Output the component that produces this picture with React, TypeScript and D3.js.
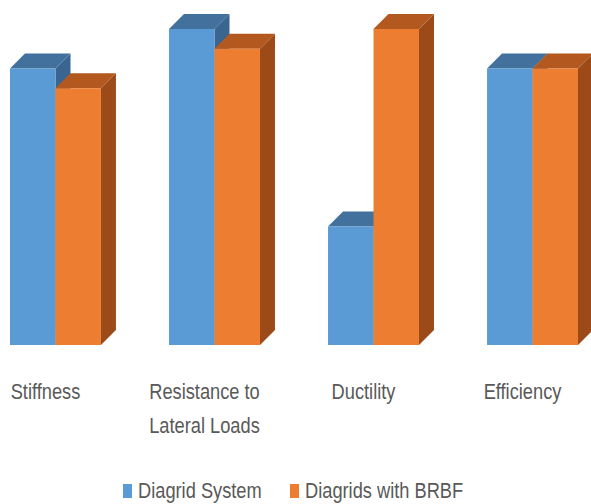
import React from "react";
import * as d3 from "d3";

const categories = ["Stiffness", "Resistance to Lateral Loads", "Ductility", "Efficiency"];
const categoryLines = [["Stiffness"], ["Resistance to", "Lateral Loads"], ["Ductility"], ["Efficiency"]];
const seriesNames = ["Diagrid System", "Diagrids with BRBF"];
const diagridValues = [7, 8, 3, 7];
const brbfValues = [6.5, 7.5, 8, 7];

const W = 591;
const H = 504;
const DEPTH = 15;
const SX = 0.83;

const colors = [
  { front: "#5B9BD5", top: "#41719C", side: "#3A6590" },
  { front: "#ED7D31", top: "#B3591F", side: "#9C4A17" },
];

export default function App() {
  const x = d3.scaleBand<string>().domain(categories).range([10, 578]).paddingInner(0.428).paddingOuter(0);
  const xs = d3.scaleBand<string>().domain(seriesNames).range([0, x.bandwidth()]).padding(0);
  const y = d3.scaleLinear().domain([0, 8]).range([345, 29]);
  const seriesValues = [diagridValues, brbfValues];

  const bars: React.ReactNode[] = [];
  categories.forEach((c, ci) => {
    seriesNames.forEach((s, si) => {
      const v = seriesValues[si][ci];
      const x0 = (x(c) ?? 0) + (xs(s) ?? 0);
      const x1 = x0 + xs.bandwidth();
      const yt = y(v);
      const yb = y(0);
      const col = colors[si];
      const d = DEPTH;
      bars.push(
        <g key={`${c}-${s}`}>
          <polygon
            points={`${x1},${yt} ${x1 + d},${yt - d} ${x1 + d},${yb - d} ${x1},${yb}`}
            fill={col.side}
          />
          <polygon
            points={`${x0},${yt} ${x0 + d},${yt - d} ${x1 + d},${yt - d} ${x1},${yt}`}
            fill={col.top}
          />
          <rect x={x0} y={yt} width={x1 - x0} height={yb - yt} fill={col.front} />
        </g>
      );
    });
  });

  const textStyle = { fontFamily: "Liberation Sans, Arial, sans-serif", fontSize: 22, fill: "#595959" };

  return (
    <svg width={W} height={H} style={{ position: "absolute", left: 0, top: 0 }}>
      <rect width={W} height={H} fill="#ffffff" />
      {bars}
      {categories.map((c, ci) => {
        const cx = (x(c) ?? 0) + x.bandwidth() / 2 - 10;
        return categoryLines[ci].map((line, li) => (
          <text
            key={`${c}-${li}`}
            transform={`translate(${cx},${399 + li * 34}) scale(${SX},1)`}
            textAnchor="middle"
            style={textStyle}
          >
            {line}
          </text>
        ));
      })}
      {seriesNames.map((s, si) => {
        const lx = si === 0 ? 123 : 290;
        return (
          <g key={s}>
            <rect x={lx} y={484} width={9} height={14} fill={colors[si].front} />
            <text transform={`translate(${lx + 15},498) scale(${SX},1)`} style={textStyle}>
              {s}
            </text>
          </g>
        );
      })}
    </svg>
  );
}
